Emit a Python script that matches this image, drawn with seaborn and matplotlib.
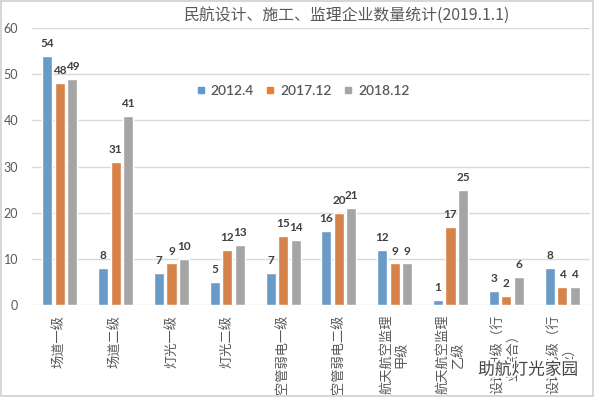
import matplotlib
matplotlib.use("Agg")
import matplotlib.pyplot as plt
import matplotlib.patheffects as pe
from matplotlib.patches import Rectangle
from matplotlib.lines import Line2D
import seaborn as sns
import pandas as pd

categories = ["场道一级", "场道二级", "灯光一级", "灯光二级", "空管弱电一级", "空管弱电二级",
              "航天航空监理\n甲级", "航天航空监理\n乙级", "设计甲级（行\n业综合）", "设计乙级（行\n业）"]
series_names = ["2012.4", "2017.12", "2018.12"]
v_2012_4 = [54, 8, 7, 5, 7, 16, 12, 1, 3, 8]
v_2017_12 = [48, 31, 9, 12, 15, 20, 9, 17, 2, 4]
v_2018_12 = [49, 41, 10, 13, 14, 21, 9, 25, 6, 4]
yticks = [0, 10, 20, 30, 40, 50, 60]
title = "民航设计、施工、监理企业数量统计(2019.1.1)"
watermark = "助航灯光家园"

colors = ["#5B9BD5", "#ED7D31", "#A5A5A5"]

sns.set_theme(style="white")
plt.rcParams['font.family'] = ['Noto Sans CJK SC', 'DejaVu Sans']

rows = []
for name, vals in zip(series_names, [v_2012_4, v_2017_12, v_2018_12]):
    for c, v in zip(categories, vals):
        rows.append({"cat": c, "series": name, "val": v})
df = pd.DataFrame(rows)

fig = plt.figure(figsize=(5.96, 3.97), dpi=100)
fig.patch.set_facecolor("white")
ax = fig.add_axes([32/596, 1 - 305/397, (590 - 32)/596, (305 - 28)/397])

sns.barplot(data=df, x="cat", y="val", hue="series", order=categories,
            hue_order=series_names, palette=colors, width=0.673, gap=0.2,
            errorbar=None, ax=ax, legend=False)

ax.set_ylim(0, 60)
ax.set_yticks(yticks)
ax.set_xlim(-0.5, len(categories) - 0.5)
ax.grid(axis="y", color="#D9D9D9", linewidth=1.0)
ax.set_axisbelow(True)
for s in ax.spines.values():
    s.set_visible(False)
ax.set_xlabel("")
ax.set_ylabel("")
ax.tick_params(axis="y", length=0, pad=10, labelsize=9, labelcolor="#595959")
ax.tick_params(axis="x", length=0, pad=7)
ax.set_xticks(range(len(categories)))
ax.set_xticklabels(categories, rotation=90, fontsize=9.5, color="#595959",
                   multialignment="center")
for lab in ax.get_yticklabels():
    lab.set_family(["Lato", "DejaVu Sans"])

for cont in ax.containers:
    ax.bar_label(cont, padding=5, fontsize=8.5, color="#404040", fontweight="bold",
                 family=["Lato", "DejaVu Sans"])

fig.text(347/596, 1 - 15/397, title, ha="center", va="center", fontsize=11.4,
         color="#595959")

handles = [Line2D([0], [0], marker="s", linestyle="none", markersize=5,
                  markerfacecolor=c, markeredgecolor=c) for c in colors]
leg = fig.legend(handles, series_names, loc="center", bbox_to_anchor=(303/596, 1 - 91/397),
                 ncol=3, frameon=False, handlelength=0.6, handletextpad=0.4,
                 columnspacing=0.9,
                 prop={"family": ["Lato", "DejaVu Sans"], "size": 10, "weight": "semibold"})
for t in leg.get_texts():
    t.set_color("#595959")

fig.text(528/596, 1 - 370/397, watermark, ha="center", va="center", fontsize=12,
         color="#444444",
         path_effects=[pe.withStroke(linewidth=3, foreground="white")])

fig.patches.append(Rectangle((0.0015, 0.002), 0.993, 0.995, transform=fig.transFigure,
                             fill=False, edgecolor="#D0D0D0", linewidth=1.2))

fig.savefig("out.png", dpi=100)
